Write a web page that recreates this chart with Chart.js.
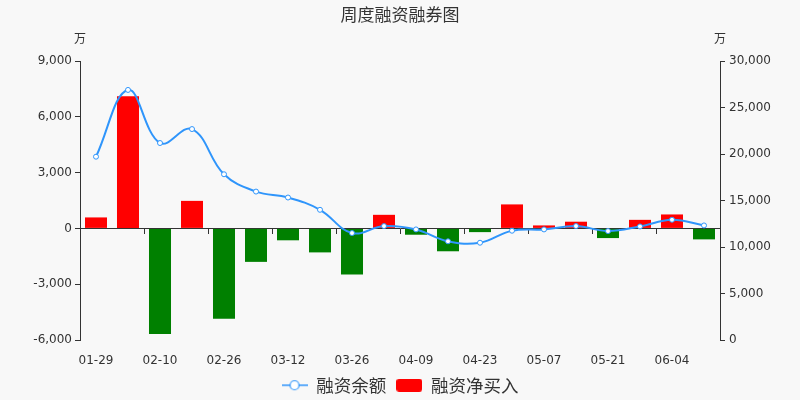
<!DOCTYPE html>
<html>
<head>
<meta charset="utf-8">
<script src="https://cdn.jsdelivr.net/npm/chart.js@4.4.1/dist/chart.umd.min.js"></script>
<style>
html, body { margin: 0; padding: 0; background: #f8f8f8; }
#contenedor { width: 800px; height: 400px; }
</style>
</head>
<body>
<div id="contenedor"><canvas id="grafico"></canvas></div>
<script>
// Datos semanales (万)
var fechas = ["01-29", "02-05", "02-10", "02-19", "02-26", "03-05", "03-12", "03-19", "03-26", "04-02",
              "04-09", "04-16", "04-23", "04-30", "05-07", "05-14", "05-21", "05-28", "06-04", "06-11"];
var saldoFinanciacion = [19710, 26890, 21180, 22680, 17820, 15960, 15320, 14000, 11500, 12250,
                         11890, 10610, 10460, 11750, 11890, 12250, 11710, 12210, 12930, 12320];
var compraNeta = [590, 7110, -5680, 1480, -4860, -1800, -640, -1290, -2480, 730,
                  -340, -1230, -200, 1290, 160, 360, -520, 460, 750, -590];

var azul = "#2f95fb";
var fuente = "'DejaVu Sans', 'Noto Sans CJK SC', sans-serif";
var fuenteCJK = "'Noto Sans CJK SC', 'DejaVu Sans', sans-serif";

// Iconos de la leyenda
function iconoLinea() {
    var c = document.createElement("canvas");
    c.width = 26; c.height = 14;
    var g = c.getContext("2d");
    g.strokeStyle = azul; g.lineWidth = 1.5;
    g.beginPath(); g.moveTo(0, 7); g.lineTo(26, 7); g.stroke();
    g.beginPath(); g.arc(13, 7, 4.5, 0, Math.PI * 2);
    g.fillStyle = "#fff"; g.fill(); g.lineWidth = 1.2; g.stroke();
    return c;
}
function iconoBarra() {
    var c = document.createElement("canvas");
    c.width = 26; c.height = 13;
    var g = c.getContext("2d");
    g.fillStyle = "#ff0000";
    g.beginPath(); g.roundRect(0, 0, 26, 13, 3); g.fill();
    return c;
}

// Unidades "万" encima de cada eje
var unidades = {
    id: "unidades",
    afterDraw: function(chart) {
        var ctx = chart.ctx, area = chart.chartArea;
        ctx.save();
        ctx.font = "12px " + fuenteCJK;
        ctx.fillStyle = "#333";
        ctx.textAlign = "center";
        ctx.textBaseline = "middle";
        ctx.fillText("万", area.left, 38);
        ctx.fillText("万", area.right, 38);
        ctx.restore();
    }
};

var ctx = document.getElementById("grafico").getContext("2d");
new Chart(ctx, {
    type: "bar",
    data: {
        labels: fechas,
        datasets: [{
            type: "line",
            label: "融资余额",
            data: saldoFinanciacion,
            yAxisID: "y1",
            borderColor: azul,
            borderWidth: 2,
            tension: 0.4,
            pointRadius: 2.5,
            pointBorderWidth: 1,
            pointBackgroundColor: "#fff",
            pointBorderColor: azul,
            order: 0
        }, {
            type: "bar",
            label: "融资净买入",
            data: compraNeta,
            yAxisID: "y",
            backgroundColor: function(c) { return c.raw >= 0 ? "#ff0000" : "#008000"; },
            categoryPercentage: 0.8,
            barPercentage: 0.86,
            order: 1
        }]
    },
    options: {
        responsive: true,
        maintainAspectRatio: false,
        animation: false,
        devicePixelRatio: 1,
        layout: { padding: { left: 0, right: 0, top: 0, bottom: -4 } },
        plugins: {
            title: {
                display: true,
                text: "周度融资融券图",
                color: "#333",
                font: { family: fuenteCJK, size: 17, weight: "normal" },
                padding: { top: 4, bottom: 36.6 }
            },
            legend: {
                position: "bottom",
                labels: {
                    color: "#333",
                    font: { family: fuenteCJK, size: 17.5 },
                    usePointStyle: true,
                    pointStyleWidth: 26,
                    boxHeight: 14,
                    padding: 10,
                    generateLabels: function(chart) {
                        return [
                            { text: "融资余额", pointStyle: iconoLinea(), datasetIndex: 0, fontColor: "#333",
                              hidden: !chart.isDatasetVisible(0), lineWidth: 0, strokeStyle: "transparent" },
                            { text: "融资净买入", pointStyle: iconoBarra(), datasetIndex: 1, fontColor: "#333",
                              hidden: !chart.isDatasetVisible(1), lineWidth: 0, strokeStyle: "transparent" }
                        ];
                    }
                }
            },
            tooltip: { mode: "index", intersect: false }
        },
        scales: {
            x: {
                position: "bottom",
                border: { display: false },
                grid: { display: false },
                afterFit: function(s) { s.height = 26.5; },
                ticks: {
                    autoSkip: false,
                    maxRotation: 0,
                    padding: 6,
                    color: "#333",
                    font: { family: fuente, size: 12 },
                    callback: function(v, i) { return i % 2 === 0 ? fechas[i] : ""; }
                }
            },
            xCero: {
                type: "category",
                axis: "x",
                position: { y: 0 },
                offset: true,
                border: { color: "#333", width: 1 },
                grid: {
                    offset: true,
                    drawOnChartArea: false,
                    tickLength: 5,
                    tickColor: function(c) { return c.index % 2 === 0 ? "#333" : "transparent"; }
                },
                ticks: { display: false }
            },
            y: {
                position: "left",
                min: -6000,
                max: 9000,
                afterFit: function(s) { s.width = 80; },
                border: { color: "#333" },
                grid: { drawOnChartArea: false, tickLength: 5, tickColor: "#333" },
                ticks: {
                    stepSize: 3000,
                    padding: 3,
                    color: "#333",
                    font: { family: fuente, size: 12 }
                }
            },
            y1: {
                position: "right",
                min: 0,
                max: 30000,
                afterFit: function(s) { s.width = 80; },
                border: { color: "#333" },
                grid: { drawOnChartArea: false, tickLength: 5, tickColor: "#333" },
                ticks: {
                    stepSize: 5000,
                    padding: 4,
                    color: "#333",
                    font: { family: fuente, size: 12 }
                }
            }
        }
    },
    plugins: [unidades]
});
</script>
</body>
</html>
